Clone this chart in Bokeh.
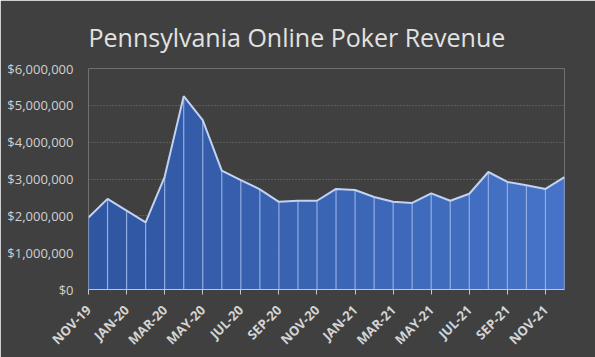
import math
from bokeh.plotting import figure
from bokeh.models import Range1d, FixedTicker, NumeralTickFormatter
from bokeh.embed import file_html
from bokeh.resources import INLINE

title_text = "Pennsylvania Online Poker Revenue"
months = ["NOV-19", "DEC-19", "JAN-20", "FEB-20", "MAR-20", "APR-20", "MAY-20", "JUN-20",
          "JUL-20", "AUG-20", "SEP-20", "OCT-20", "NOV-20", "DEC-20", "JAN-21", "FEB-21",
          "MAR-21", "APR-21", "MAY-21", "JUN-21", "JUL-21", "AUG-21", "SEP-21", "OCT-21",
          "NOV-21", "DEC-21"]
revenue = [1955000, 2460000, 2140000, 1820000, 3060000, 5250000, 4600000, 3230000,
           2970000, 2720000, 2380000, 2410000, 2410000, 2730000, 2700000, 2510000,
           2380000, 2350000, 2610000, 2410000, 2600000, 3190000, 2920000, 2830000,
           2730000, 3050000]
y_ticks = [0, 1000000, 2000000, 3000000, 4000000, 5000000, 6000000]

BG = "#404040"
idx = list(range(len(months)))

p = figure(width=595, height=357, output_backend="svg", toolbar_location=None,
           x_range=Range1d(0, len(months) - 1), y_range=Range1d(0, 6000000),
           background_fill_color=BG, border_fill_color=BG, outline_line_color=None,
           min_border_left=88, min_border_right=31, min_border_top=68, min_border_bottom=68,
           title=title_text)

p.title.align = "left"
p.title.offset = 0
p.title.standoff = 30
p.title.text_font = "Open Sans"
p.title.text_font_size = "25px"
p.title.text_font_style = "normal"
p.title.text_color = "#e2e2e2"

def lerp_color(c0, c1, t):
    a = [int(c0[i:i + 2], 16) for i in (1, 3, 5)]
    b = [int(c1[i:i + 2], 16) for i in (1, 3, 5)]
    return "#%02x%02x%02x" % tuple(round(a[k] + (b[k] - a[k]) * t) for k in range(3))

n = len(revenue)
for i in range(n - 1):
    t = (i + 0.5) / (n - 1)
    p.varea(x=[idx[i], idx[i + 1]], y1=[0, 0], y2=[revenue[i], revenue[i + 1]],
            fill_color=lerp_color("#2f55a0", "#4674c8", t), fill_alpha=1.0)

p.segment(x0=idx, y0=[0] * n, x1=idx, y1=revenue, line_color="#92aee4", line_width=1.2)
p.line(idx, revenue, line_color="#c2d2f2", line_width=2)

# axes
p.yaxis.ticker = FixedTicker(ticks=y_ticks)
p.yaxis.formatter = NumeralTickFormatter(format="$0,0")
p.yaxis.axis_line_color = None
p.yaxis.major_tick_line_color = None
p.yaxis.minor_tick_line_color = None
p.yaxis.major_label_text_font = "Open Sans"
p.yaxis.major_label_text_font_size = "13px"
p.yaxis.major_label_text_color = "#d0d0d0"
p.yaxis.major_label_standoff = 9

p.xaxis.ticker = FixedTicker(ticks=idx[::2])
p.xaxis.major_label_overrides = {i: months[i] for i in idx[::2]}
p.xaxis.major_label_orientation = math.pi / 4
p.xaxis.axis_line_color = "#c0c6d2"
p.xaxis.axis_line_width = 1
p.xaxis.major_tick_line_color = "#c0c6d2"
p.xaxis.major_tick_out = 5
p.xaxis.major_tick_in = 0
p.xaxis.minor_tick_line_color = None
p.xaxis.major_label_text_font = "Open Sans"
p.xaxis.major_label_text_font_size = "13px"
p.xaxis.major_label_text_font_style = "bold"
p.xaxis.major_label_text_color = "#d4d4d4"
p.xaxis.major_label_standoff = 13

p.xgrid.grid_line_color = None
p.ygrid.grid_line_color = "#767676"
p.ygrid.grid_line_dash = "1 2"
p.ygrid.grid_line_width = 1

open("out.html", "w").write(file_html(p, INLINE))
